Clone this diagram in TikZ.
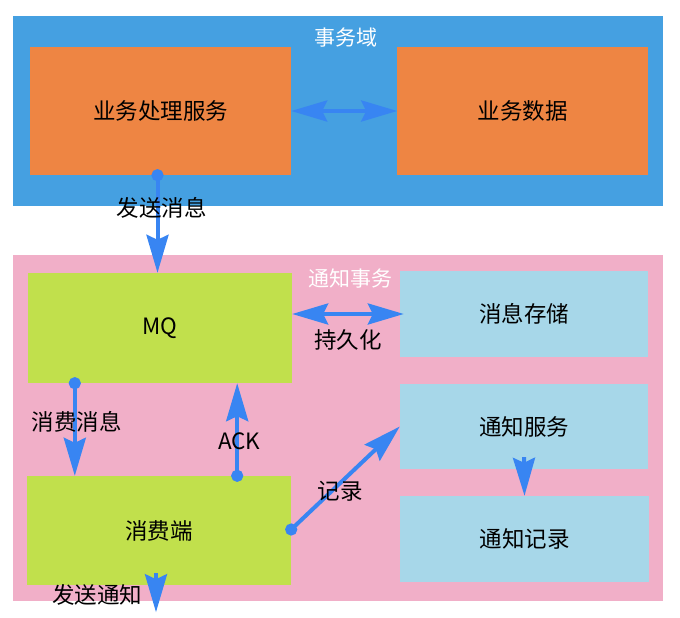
\documentclass[tikz,border=0pt]{standalone}
\usepackage{fontspec}
\setmainfont{Noto Sans CJK SC}
\usetikzlibrary{arrows.meta,positioning}
\definecolor{AzulDom}{HTML}{45A0E1}
\definecolor{RosaDom}{HTML}{F1AFC8}
\definecolor{Naranja}{HTML}{EE8543}
\definecolor{VerdeLima}{HTML}{C1E04C}
\definecolor{CelesteCaja}{HTML}{A7D7E9}
\definecolor{AzulFlecha}{HTML}{3885F2}
\tikzset{
  dominio/.style  = {rectangle, inner sep=0pt, anchor=north west},
  caja/.style     = {rectangle, inner sep=0pt, align=center,
                     font=\fontsize{22.5pt}{26pt}\selectfont},
  titulo/.style   = {text=white, inner sep=0pt, font=\fontsize{21pt}{24pt}\selectfont},
  lbl/.style      = {text=black, inner sep=0pt, font=\fontsize{22.5pt}{26pt}\selectfont},
  flecha/.style   = {AzulFlecha, line width=4pt, -{Stealth[length=38pt, width=22pt, inset=5pt]}},
  flechap/.style  = {AzulFlecha, line width=4pt, shorten <=-6pt,
                     {Circle[length=12pt]}-{Stealth[length=38pt, width=22pt, inset=5pt]}},
  flechad/.style  = {AzulFlecha, line width=4pt,
                     {Stealth[length=36pt, width=21pt, inset=5pt]}-{Stealth[length=36pt, width=21pt, inset=5pt]}},
}
\begin{document}
\begin{tikzpicture}[x=1pt, y=-1pt]
  \useasboundingbox (0,0) rectangle (680,618);
  % Dominios
  \node[dominio, fill=AzulDom, minimum width=650pt, minimum height=190pt] (dtrans) at (13,16) {};
  \node[dominio, fill=RosaDom, minimum width=650pt, minimum height=346pt] (dnotif) at (13,255) {};
  \node[titulo] (tdtrans) at (346,38) {事务域};
  \node[titulo] (tdnotif) at (350,279) {通知事务};

  % Dominio de transacciones
  \node[caja, fill=Naranja, minimum width=261pt, minimum height=128pt] (negocio) at (160.5,111) {业务处理服务};
  \node[caja, fill=Naranja, minimum width=251pt, minimum height=128pt, right=106pt of negocio] (datos) {业务数据};
  \draw[flechad] (negocio.east) -- (datos.west);

  % Dominio de notificaciones
  \node[caja, fill=VerdeLima, minimum width=264pt, minimum height=110pt] (mq) at (160,328) {MQ};
  \node[caja, fill=CelesteCaja, minimum width=248pt, minimum height=86pt] (almacen) at (524,314) {消息存储};
  \node[caja, fill=CelesteCaja, minimum width=248pt, minimum height=85pt] (servicio) at (524,426.5) {通知服务};
  \node[caja, fill=CelesteCaja, minimum width=249pt, minimum height=86pt] (registro) at (524.5,539) {通知记录};
  \node[caja, fill=VerdeLima, minimum width=264pt, minimum height=109pt] (consumidor) at (159,530.5) {消费端};
  \coordinate (fin) at ([xshift=-3pt, yshift=-27pt]consumidor.south);

  \draw[flechap] ([xshift=-3pt]negocio.south) -- ([xshift=-3pt]negocio.south |- mq.north)
    node[lbl, pos=0.33, xshift=4pt] (lenvio) {发送消息};
  \draw[flechad] (almacen.west -| mq.east) -- ([xshift=4pt]almacen.west)
    node[lbl, pos=0.5, yshift=-26pt] (lpersist) {持久化};
  \draw[flechap] ([xshift=47pt]mq.south west) -- ([xshift=47pt]mq.south west |- consumidor.north)
    node[lbl, pos=0.42, xshift=2pt] (lconsumo) {消费消息};
  \draw[flechap] ([xshift=-54pt]consumidor.north east) -- ([xshift=-54pt]consumidor.north east |- mq.south)
    node[lbl, pos=0.37, xshift=2pt] (lack) {ACK};
  \draw[flechap] ([yshift=1pt]consumidor.east) -- (servicio.west)
    node[lbl, pos=0.45, yshift=-8pt] (lregistro) {记录};
  \draw[flecha] ([yshift=12pt]servicio.south) -- (registro.north);
  \draw[flecha] ([xshift=-3pt, yshift=12pt]consumidor.south) -- (fin)
    node[lbl, pos=0.56, left=12pt] (lnotif) {发送通知};
\end{tikzpicture}
\end{document}
